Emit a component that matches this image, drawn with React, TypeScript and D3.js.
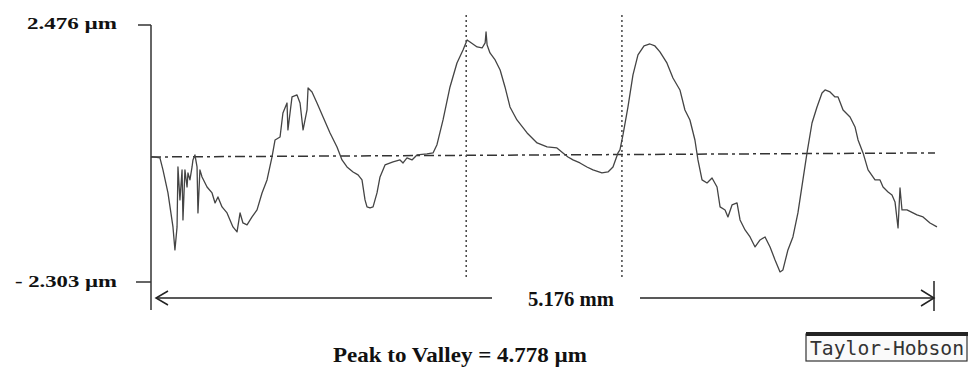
import React from "react";
import * as d3 from "d3";

// Profile trace: position along the trace (mm) and height (µm)
const profileMm = [0.005,0.059,0.079,0.112,0.145,0.158,0.172,0.178,0.191,0.205,
0.211,0.224,0.238,0.244,0.257,0.271,0.277,0.290,0.304,0.310,
0.323,0.337,0.370,0.403,0.423,0.442,0.469,0.502,0.541,0.568,
0.588,0.607,0.634,0.667,0.700,0.733,0.766,0.799,0.819,0.852,
0.871,0.898,0.904,0.931,0.964,0.984,1.004,1.030,1.037,1.063,
1.096,1.136,1.182,1.228,1.261,1.294,1.334,1.367,1.393,1.413,
1.426,1.446,1.466,1.492,1.512,1.545,1.598,1.644,1.664,1.690,
1.723,1.756,1.822,1.862,1.888,1.928,1.974,2.020,2.060,2.087,
2.106,2.153,2.186,2.206,2.212,2.219,2.238,2.272,2.305,2.337,
2.370,2.416,2.483,2.549,2.615,2.680,2.720,2.753,2.786,2.832,
2.878,2.918,2.977,3.017,3.050,3.083,3.096,3.116,3.149,3.182,
3.215,3.255,3.294,3.327,3.360,3.406,3.446,3.492,3.525,3.558,
3.591,3.611,3.638,3.671,3.704,3.737,3.757,3.790,3.809,3.836,
3.869,3.889,3.922,3.955,3.988,4.021,4.054,4.087,4.120,4.153,
4.172,4.205,4.238,4.271,4.304,4.331,4.364,4.397,4.430,4.450,
4.483,4.516,4.536,4.569,4.615,4.648,4.668,4.701,4.734,4.780,
4.813,4.833,4.866,4.892,4.912,4.932,4.945,4.958,4.991,5.057,
5.097,5.143,5.189];

const profileUm = [0.028,0.004,-0.219,-0.647,-1.279,-1.707,-1.279,-0.164,-0.777,-0.219,
-1.149,-0.219,-0.536,-0.275,-0.405,-0.164,-0.033,0.060,-0.164,-1.019,
-0.219,-0.350,-0.536,-0.647,-0.833,-0.721,-0.907,-1.019,-1.279,-1.372,
-1.019,-1.205,-1.242,-1.093,-0.963,-0.647,-0.405,0.022,0.338,0.394,
0.840,1.026,0.524,1.138,1.175,1.026,0.524,0.896,1.305,1.231,
1.026,0.766,0.469,0.208,-0.033,-0.164,-0.257,-0.312,-0.405,-0.777,
-0.907,-0.926,-0.907,-0.647,-0.350,-0.126,-0.071,-0.033,-0.089,0.004,
-0.033,0.060,0.078,0.097,0.250,0.710,1.324,1.770,2.012,2.198,
2.161,2.068,2.049,2.142,2.347,2.105,1.956,1.826,1.640,1.324,
0.952,0.710,0.469,0.283,0.208,0.190,0.097,0.022,-0.033,-0.089,
-0.164,-0.219,-0.275,-0.257,-0.164,0.097,0.152,0.431,0.952,1.547,
1.919,2.086,2.123,2.086,1.975,1.770,1.491,1.268,0.896,0.710,
0.338,-0.033,-0.405,-0.461,-0.368,-0.536,-0.907,-0.963,-1.093,-0.870,
-0.833,-1.149,-1.335,-1.465,-1.651,-1.521,-1.465,-1.651,-1.893,-2.116,
-2.079,-1.707,-1.465,-1.019,-0.405,0.097,0.654,0.952,1.212,1.268,
1.231,1.138,1.138,0.896,0.766,0.580,0.338,0.097,-0.219,-0.405,
-0.405,-0.536,-0.628,-0.684,-0.814,-1.298,-0.554,-0.963,-0.963,-1.056,
-1.093,-1.205,-1.279];

// Mean (reference) line endpoints
const meanMm = [0, 5.176];
const meanUm = [0.022, 0.097];

// Vertical cursor positions (mm) and their extent (µm)
const cursorMm = [2.081, 3.109];
const cursorExtentUm = [2.663, -2.228];

// Axis / labels
const yTicks = [2.476, -2.303];
const yTickLabels = ["2.476 µm", "- 2.303 µm"];
const lengthMm = 5.176;
const lengthLabel = "5.176 mm";
const footerLabel = "Peak to Valley = 4.778 µm";
const brandLabel = "Taylor-Hobson";

export default function App() {
  const W = 973, H = 368;
  const x = d3.scaleLinear().domain([0, lengthMm]).range([151, 935]);
  const y = d3.scaleLinear().domain([yTicks[1], yTicks[0]]).range([282, 25]);

  const line = d3.line<number>()
    .x((_, i) => x(profileMm[i]))
    .y((d) => y(d))
    .curve(d3.curveLinear);

  const axisX = x(0);
  const dimY = 298;
  const serif = "'Liberation Serif', 'Times New Roman', serif";

  return (
    <svg width={W} height={H} style={{ position: "absolute", left: 0, top: 0, background: "#fff" }}
      xmlns="http://www.w3.org/2000/svg">
      <rect x={0} y={0} width={W} height={H} fill="#fff" />
      {/* vertical axis */}
      <line x1={axisX} x2={axisX} y1={y(yTicks[0])} y2={310} stroke="#333" strokeWidth={1.5} />
      <line x1={axisX - 13} x2={axisX} y1={y(yTicks[0])} y2={y(yTicks[0])} stroke="#333" strokeWidth={1.5} />
      <line x1={axisX - 15} x2={axisX} y1={y(yTicks[1])} y2={y(yTicks[1])} stroke="#333" strokeWidth={1.5} />

      <text x={27} y={29} fontFamily={serif} fontWeight="bold" fontSize={17} fill="#111"
        textLength={90} lengthAdjust="spacingAndGlyphs">{yTickLabels[0]}</text>
      <text x={15} y={287} fontFamily={serif} fontWeight="bold" fontSize={17} fill="#111"
        textLength={102} lengthAdjust="spacingAndGlyphs">{yTickLabels[1]}</text>

      {/* mean line */}
      <line x1={x(meanMm[0])} x2={x(meanMm[1])} y1={y(meanUm[0])} y2={y(meanUm[1])}
        stroke="#333" strokeWidth={1.5} strokeDasharray="10 4 3 4" />

      {/* cursors */}
      {cursorMm.map((c, i) => (
        <line key={i} x1={x(c)} x2={x(c)} y1={y(cursorExtentUm[0])} y2={y(cursorExtentUm[1])}
          stroke="#444" strokeWidth={1.5} strokeDasharray="2 3" />
      ))}

      {/* profile */}
      <path d={line(profileUm) || ""} fill="none" stroke="#444" strokeWidth={1.3} strokeLinejoin="round" />

      {/* dimension line */}
      <line x1={x(0) + 5} x2={492} y1={dimY} y2={dimY} stroke="#222" strokeWidth={1.5} />
      <line x1={640} x2={x(lengthMm) - 1} y1={dimY} y2={dimY} stroke="#222" strokeWidth={1.5} />
      <polyline points={`${x(0) + 17},${dimY - 7} ${x(0) + 5},${dimY} ${x(0) + 17},${dimY + 7}`}
        fill="none" stroke="#222" strokeWidth={1.5} />
      <polyline points={`${x(lengthMm) - 14},${dimY - 8} ${x(lengthMm) - 1},${dimY} ${x(lengthMm) - 14},${dimY + 8}`}
        fill="none" stroke="#222" strokeWidth={1.5} />
      <line x1={x(lengthMm) - 1} x2={x(lengthMm) - 1} y1={281} y2={311} stroke="#222" strokeWidth={1.5} />
      <text x={528} y={306} fontFamily={serif} fontWeight="bold" fontSize={20} fill="#111"
        textLength={86} lengthAdjust="spacingAndGlyphs">{lengthLabel}</text>

      {/* footer */}
      <text x={333} y={362} fontFamily={serif} fontWeight="bold" fontSize={22} fill="#111"
        textLength={254} lengthAdjust="spacingAndGlyphs">{footerLabel}</text>

      {/* brand */}
      <rect x={806} y={334} width={161} height={27} fill="#fafafa" stroke="#333" strokeWidth={1.2} />
      <rect x={806} y={332} width={162} height={4} fill="#222" />
      <text x={810} y={355} fontFamily="'DejaVu Sans Mono', monospace" fontSize={19} fill="#333"
        textLength={154} lengthAdjust="spacingAndGlyphs">{brandLabel}</text>
    </svg>
  );
}
